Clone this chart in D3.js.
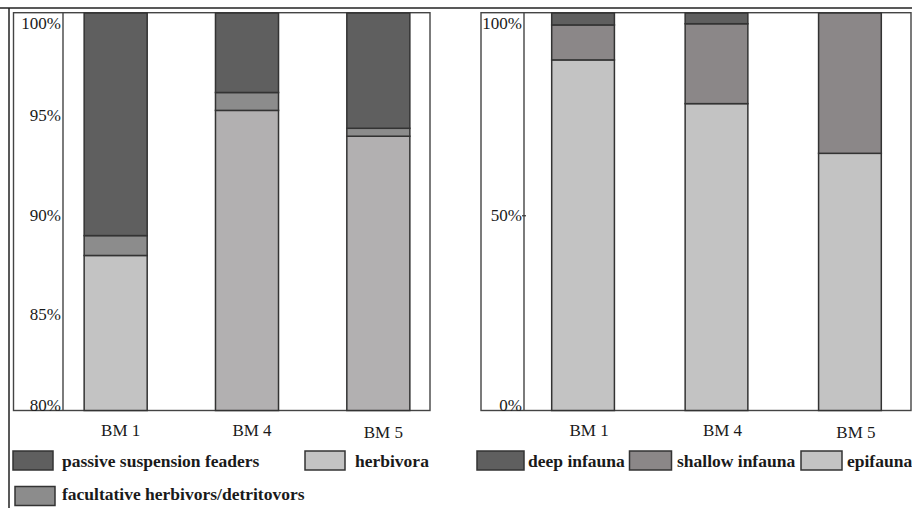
<!DOCTYPE html>
<html>
<head>
<meta charset="utf-8">
<script src="https://cdn.jsdelivr.net/npm/d3@7/dist/d3.min.js"></script>
<style>
  html, body { margin: 0; padding: 0; background: #fff; }
  svg { display: block; }
  text { font-family: "Liberation Serif", "Times New Roman", serif; fill: #1a1a1a; }
</style>
</head>
<body>
<svg id="chart" width="912" height="508"></svg>
<script>
// ---- data: trophic groups (left panel) ----
const sites = ["BM 1", "BM 4", "BM 5"];
const trophicKeys = ["herbivora", "facultative", "passive"];
const herbivora   = [87.8, 95.1, 93.8];
const facultative = [1.0, 0.9, 0.4];
const passive     = [11.2, 4.0, 5.8];
const trophicTicks = [80, 85, 90, 95, 100];

// ---- data: life habit (right panel) ----
const habitKeys = ["epifauna", "shallow", "deep"];
const epifauna = [88.2, 77.2, 64.7];
const shallow  = [8.8, 20.1, 35.3];
const deep     = [3.0, 2.7, 0.0];
const habitTicks = [0, 50, 100];

// ---- styles ----
const trophicFill = { passive: "#5f5f5f", facultative: "#8c8c8c", herbivora: "#c3c3c3" };
const herbivoraShade = { "BM 1": "#c3c3c3", "BM 4": "#b2b0b1", "BM 5": "#b2b0b1" };
const habitFill = { deep: "#5f5f5f", shallow: "#8b8788", epifauna: "#c3c3c3" };
const barStroke = "#333";
const frameStroke = "#444";

const svg = d3.select("#chart");
const plotTop = 13, plotBottom = 410.5;

// outer frame
svg.append("line").attr("x1", 0).attr("x2", 912).attr("y1", 8).attr("y2", 8)
  .attr("stroke", "#222").attr("stroke-width", 1.5);
svg.append("line").attr("x1", 9).attr("x2", 9).attr("y1", 8).attr("y2", 508)
  .attr("stroke", "#222").attr("stroke-width", 1.5);

function panel(opts) {
  const { boxX0, boxX1, axisX, yDomain, ticks, rows, keys, fillOf, xRange, padInner, padOuter, labelShift, tickDash } = opts;
  const y = d3.scaleLinear().domain(yDomain).range([plotBottom, plotTop]);
  const x = d3.scaleBand().domain(sites).range(xRange).paddingInner(padInner).paddingOuter(padOuter);

  const g = svg.append("g");
  // box + value axis line
  g.append("rect").attr("x", boxX0).attr("y", plotTop - 0.3).attr("width", boxX1 - boxX0).attr("height", plotBottom - plotTop + 0.3)
    .attr("fill", "none").attr("stroke", frameStroke).attr("stroke-width", 1.4);
  g.append("line").attr("x1", axisX).attr("x2", axisX).attr("y1", plotTop).attr("y2", plotBottom)
    .attr("stroke", frameStroke).attr("stroke-width", 1.4);

  // tick labels
  const tg = g.append("g").selectAll("g").data(ticks).join("g")
    .attr("transform", d => `translate(${axisX - 2},${Math.max(plotTop + 16, Math.min(plotBottom, y(d) + 9))})`);
  tg.append("text").attr("text-anchor", "end").attr("font-size", 17).text(d => d + "%");
  if (tickDash) {
    tg.filter(d => d !== yDomain[0] && d !== yDomain[1]).append("line")
      .attr("x1", 0).attr("x2", 4).attr("y1", -5).attr("y2", -5)
      .attr("stroke", "#333").attr("stroke-width", 1.2);
  }

  // stacked bars
  const table = sites.map((s, i) => {
    const o = { site: s };
    keys.forEach(k => { o[k] = rows[k][i]; });
    return o;
  });
  const series = d3.stack().keys(keys)(table);
  g.append("g").selectAll("g").data(series).join("g")
    .selectAll("rect").data(d => d.map(v => ({ key: d.key, v })).filter(d => d.v[1] - d.v[0] > 0))
    .join("rect")
    .attr("x", d => x(d.v.data.site))
    .attr("width", x.bandwidth())
    .attr("y", d => y(Math.min(d.v[1], yDomain[1])))
    .attr("height", d => y(Math.max(d.v[0], yDomain[0])) - y(Math.min(d.v[1], yDomain[1])))
    .attr("fill", d => fillOf(d.key, d.v.data.site))
    .attr("stroke", barStroke).attr("stroke-width", 1.5);

  // category labels
  g.append("g").selectAll("text").data(sites).join("text")
    .attr("x", d => x(d) + x.bandwidth() / 2 + labelShift)
    .attr("y", (d, i) => 436 + (i === 2 ? 1.5 : 0))
    .attr("text-anchor", "middle").attr("font-size", 17).text(d => d);
}

panel({
  boxX0: 13.5, boxX1: 430, axisX: 63,
  yDomain: [80, 100], ticks: trophicTicks,
  rows: { herbivora, facultative, passive }, keys: trophicKeys,
  fillOf: (k, s) => k === "herbivora" ? herbivoraShade[s] : trophicFill[k],
  xRange: [50, 444], padInner: 0.52, padOuter: 0.26, labelShift: 5, tickDash: false
});

panel({
  boxX0: 481, boxX1: 911, axisX: 524,
  yDomain: [0, 100], ticks: habitTicks,
  rows: { epifauna, shallow, deep }, keys: habitKeys,
  fillOf: k => habitFill[k],
  xRange: [517, 916], padInner: 0.53, padOuter: 0.26, labelShift: 6, tickDash: true
});

// legends
function legendItem(sx, sy, sw, label, fill, tx, ty) {
  svg.append("rect").attr("x", sx).attr("y", sy).attr("width", sw).attr("height", 19)
    .attr("fill", fill).attr("stroke", barStroke).attr("stroke-width", 1.5);
  svg.append("text").attr("x", tx).attr("y", ty).attr("font-size", 17.5).attr("font-weight", "bold").text(label);
}
legendItem(13, 451, 40, "passive suspension feaders", trophicFill.passive, 62, 467);
legendItem(305, 451, 40, "herbivora", trophicFill.herbivora, 355, 467);
legendItem(15, 486.5, 40, "facultative herbivors/detritovors", trophicFill.facultative, 62, 500);
legendItem(477, 451, 47, "deep infauna", habitFill.deep, 528, 467);
legendItem(629.5, 451, 42, "shallow infauna", habitFill.shallow, 677, 467);
legendItem(801, 451, 41, "epifauna", habitFill.epifauna, 847, 467);
</script>
</body>
</html>
